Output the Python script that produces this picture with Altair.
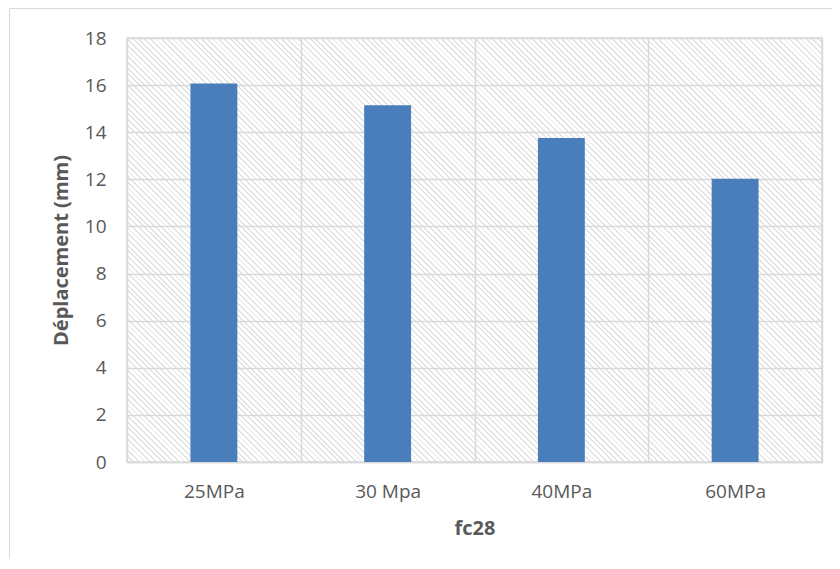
import altair as alt
import pandas as pd

# ---- data ----
categories = ["25MPa", "30 Mpa", "40MPa", "60MPa"]
values = [16.07, 15.15, 13.75, 12.02]
y_ticks = [0, 2, 4, 6, 8, 10, 12, 14, 16, 18]

df = pd.DataFrame({"cat": categories, "val": values})

W, H = 695, 424
FONT = "Open Sans"
TXT = "#595959"
GRID = "#d9d9d9"

# diagonal hatch background built as a striped linear gradient
period_px = 5.7
frac = 0.32
HATCH = "#e2e2e2"
N = round((W + H) / period_px)
stops = []
for i in range(N):
    a = i / N
    b = (i + frac) / N
    c = (i + 1) / N
    stops += [
        "{offset:%.5f,color:'%s'}" % (a, HATCH),
        "{offset:%.5f,color:'%s'}" % (b, HATCH),
        "{offset:%.5f,color:'#ffffff'}" % b,
        "{offset:%.5f,color:'#ffffff'}" % c,
    ]
k = (W + H) / (W ** 2 + H ** 2)
hatch_expr = "{gradient:'linear',x1:0,y1:1,x2:%.6f,y2:%.6f,stops:[%s]}" % (
    k * W, 1 - k * H, ",".join(stops))

bars = alt.Chart(df).mark_bar(color="#4A7EBB", width=alt.RelativeBandSize(0.27)).encode(
    x=alt.X(
        "cat:N",
        sort=categories,
        title="fc28",
        scale=alt.Scale(paddingInner=0, paddingOuter=0),
        axis=alt.Axis(
            tickBand="extent", grid=True, ticks=False, labelAngle=0,
            labelPadding=20, titlePadding=17,
            domainColor=GRID, domainWidth=1.5,
        ),
    ),
    y=alt.Y(
        "val:Q",
        title="Déplacement (mm)",
        scale=alt.Scale(domain=[0, 18], nice=False),
        axis=alt.Axis(values=y_ticks, domain=False, ticks=False, grid=True,
                      labelPadding=21, titlePadding=13),
    ),
)

border = alt.Chart(pd.DataFrame({"a": [0]})).mark_rect(
    fillOpacity=0, stroke=GRID, strokeWidth=1
).encode(
    x=alt.value(-117.5), x2=alt.value(W + 300),
    y=alt.value(-29.5), y2=alt.value(H + 300),
)

chart = alt.layer(bars, border).properties(
    width=W, height=H,
    autosize=alt.AutoSizeParams(type="none"),
    padding={"left": 119, "top": 30, "right": 10, "bottom": 97},
).configure_view(
    stroke=GRID, strokeWidth=1.5, fill={"expr": hatch_expr},
).configure_axis(
    gridColor=GRID, gridWidth=1.5,
    labelFont=FONT, labelFontSize=19, labelColor=TXT,
    titleFont=FONT, titleFontSize=20, titleColor=TXT, titleFontWeight="bold",
)

chart.save("out.html", embed_options={"renderer": "svg", "actions": False})
